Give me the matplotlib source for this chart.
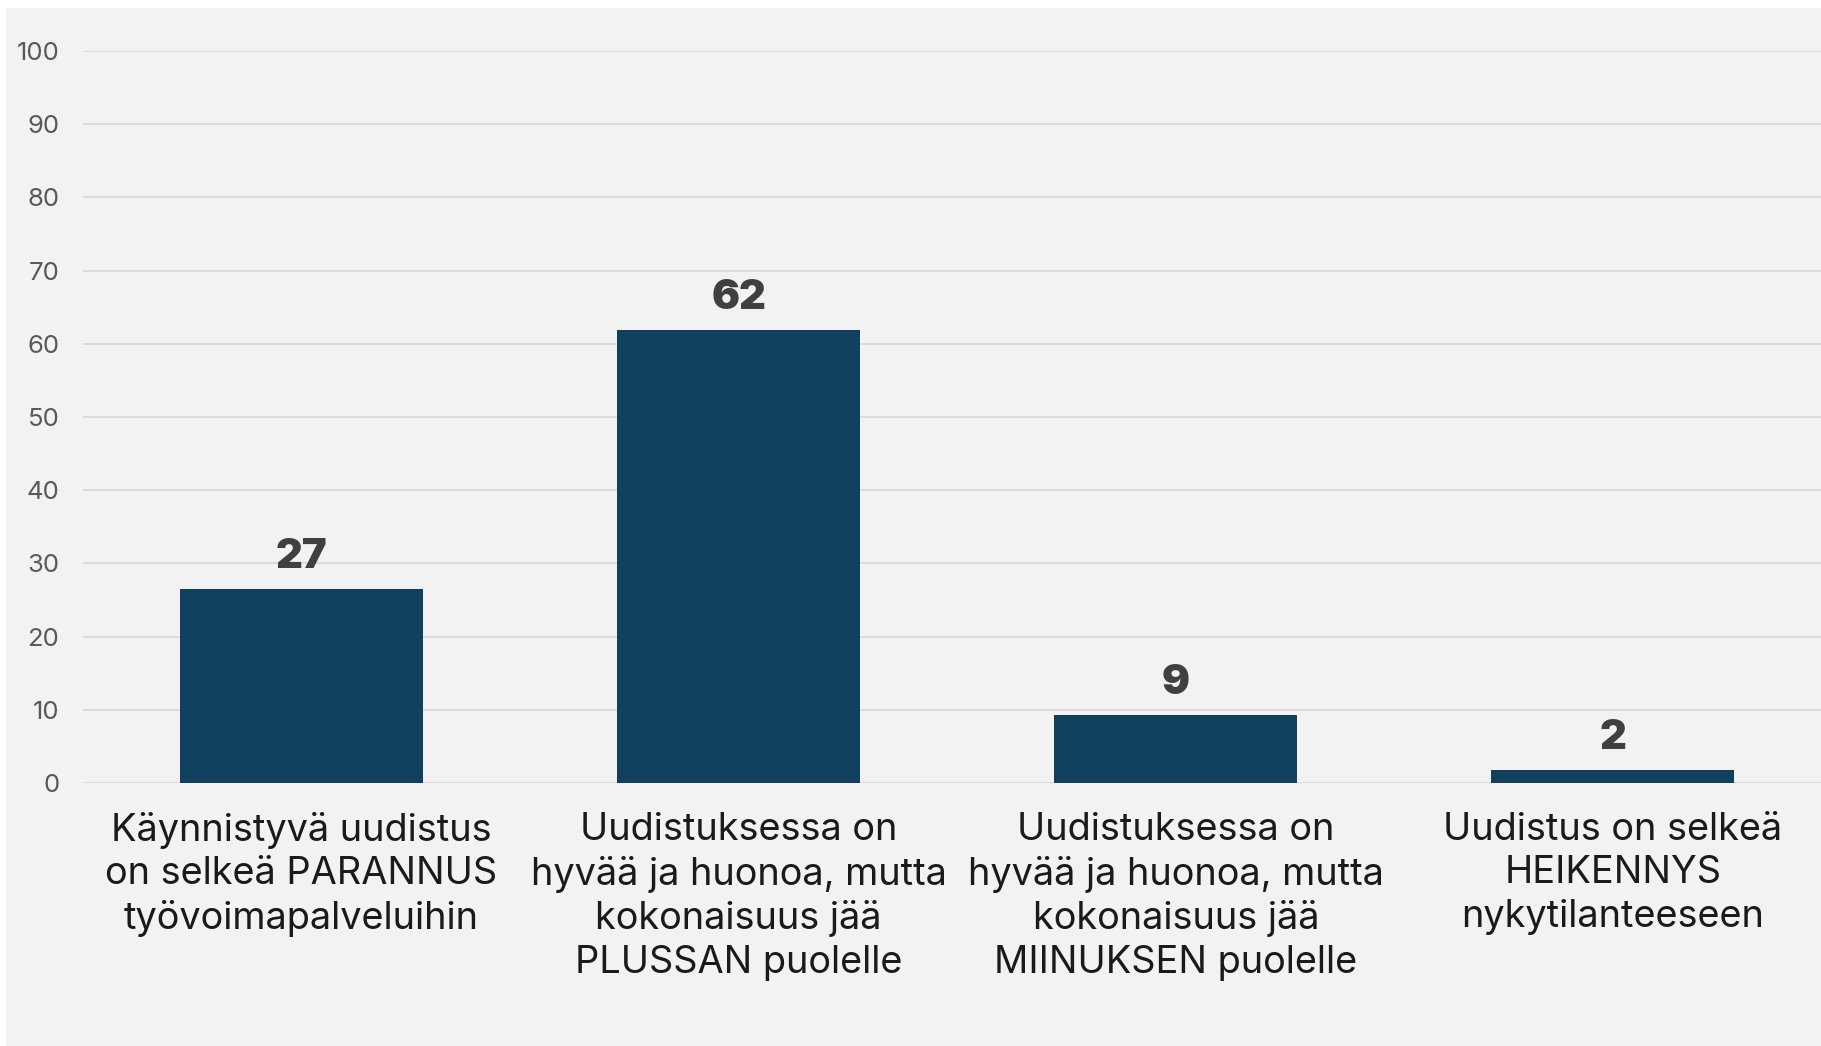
import matplotlib.pyplot as plt
from matplotlib.patches import Rectangle

categories = [
    "Käynnistyvä uudistus\non selkeä PARANNUS\ntyövoimapalveluihin",
    "Uudistuksessa on\nhyvää ja huonoa, mutta\nkokonaisuus jää\nPLUSSAN puolelle",
    "Uudistuksessa on\nhyvää ja huonoa, mutta\nkokonaisuus jää\nMIINUKSEN puolelle",
    "Uudistus on selkeä\nHEIKENNYS\nnykytilanteeseen",
]
values = [26.5, 61.9, 9.3, 1.8]
labels = ["27", "62", "9", "2"]
yticks = list(range(0, 101, 10))

W, H = 1821, 1046
fig = plt.figure(figsize=(W / 100, H / 100), dpi=100, facecolor="white")
# grey panel behind the chart
fig.patches.append(Rectangle((6 / W, 0), 1, 1 - 8 / H, transform=fig.transFigure,
                             facecolor="#f2f2f2", edgecolor="none", zorder=-1))

ax = fig.add_axes([83 / W, 1 - 783 / H, 1 - 83 / W, (783 - 51) / H])
ax.set_facecolor("none")

x = list(range(len(values)))
ax.bar(x, values, width=0.556, color="#11405f", zorder=3)

for xi, v, lab in zip(x, values, labels):
    ax.annotate(lab, (xi, v), xytext=(0, 15), textcoords="offset points",
                ha="center", va="baseline", fontsize=30, fontweight="black",
                family="Inter", color="#404040")

ax.set_xlim(-0.5, 3.476)
ax.set_ylim(0, 100)
ax.set_yticks(yticks)
ax.grid(axis="y", color="#d9d9d9", linewidth=1.3, zorder=0)
ax.set_axisbelow(True)
for s in ax.spines.values():
    s.set_visible(False)

ax.set_yticklabels([str(t) for t in yticks], fontsize=18.5, family="Inter", color="#595959")
ax.tick_params(axis="y", length=0, pad=17)

ax.set_xticks(x)
ax.set_xticklabels(categories, fontsize=27.3, family="Inter", color="#1a1a1a",
                   linespacing=1.26)
ax.tick_params(axis="x", length=0, pad=21)

fig.savefig("out.png", dpi=100, facecolor="white")
